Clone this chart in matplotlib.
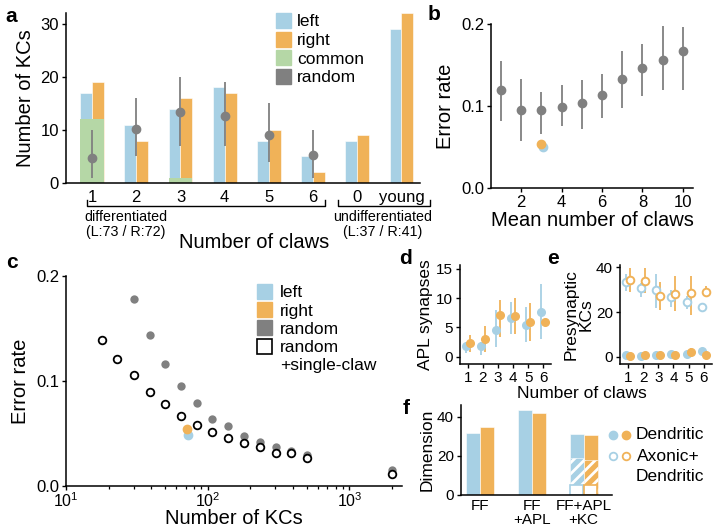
import matplotlib
matplotlib.use('Agg')
import matplotlib.pyplot as plt
import numpy as np
from matplotlib.patches import Patch
import matplotlib.transforms as mtransforms

plt.rcParams['font.family'] = ['Liberation Sans', 'DejaVu Sans']
plt.rcParams['hatch.color'] = 'white'
plt.rcParams['hatch.linewidth'] = 2.0

BLUE = '#a7d0e4'
ORANGE = '#f0b258'
GREEN = '#b5d7a6'
GRAY = '#808080'

# ---------------- data ----------------
# panel a
claw_labels = ['1', '2', '3', '4', '5', '6', '0', 'young']
left_counts = [17, 11, 14, 18, 8, 5, 8, 29]
right_counts = [19, 8, 16, 17, 10, 2, 9, 32]
common_counts = [12, 0, 1, 0, 0, 0, 0, 0]
random_mean = [4.8, 10.1, 13.4, 12.7, 9.1, 5.2]
random_lo = [1.0, 5.0, 7.0, 7.0, 4.0, 1.0]
random_hi = [10.0, 16.0, 20.0, 19.0, 15.0, 10.0]

# panel b
mean_claws = [1, 2, 3, 4, 5, 6, 7, 8, 9, 10]
b_err = [0.120, 0.095, 0.095, 0.099, 0.104, 0.114, 0.133, 0.146, 0.156, 0.167]
b_lo = [0.082, 0.057, 0.066, 0.075, 0.072, 0.085, 0.097, 0.112, 0.119, 0.119]
b_hi = [0.155, 0.133, 0.117, 0.125, 0.132, 0.139, 0.167, 0.176, 0.198, 0.196]
b_left = (3.08, 0.050)
b_right = (2.96, 0.054)

# panel c
n_kcs_random = [30, 39, 50, 65, 84, 108, 140, 181, 234, 302, 390, 504, 2000]
err_random = [0.178, 0.144, 0.116, 0.095, 0.079, 0.064, 0.057, 0.048, 0.042,
              0.037, 0.033, 0.030, 0.015]
n_kcs_single = [18, 23, 30, 39, 50, 65, 84, 108, 140, 181, 234, 302, 390, 504, 2000]
err_single = [0.139, 0.121, 0.106, 0.090, 0.078, 0.067, 0.058, 0.051, 0.046,
              0.041, 0.037, 0.031, 0.031, 0.027, 0.011]
c_left = (73, 0.049)
c_right = (72, 0.054)

# panel d
claws = [1, 2, 3, 4, 5, 6]
d_left = [1.8, 1.8, 4.5, 6.6, 5.5, 7.6]
d_left_lo = [0.6, 0.4, 1.7, 3.9, 2.5, 3.0]
d_left_hi = [2.5, 2.6, 8.0, 9.3, 8.5, 12.3]
d_right = [2.4, 3.0, 7.2, 7.0, 5.9, 6.0]
d_right_lo = [0.8, 0.8, 3.4, 3.9, 2.7, 6.0]
d_right_hi = [3.7, 5.2, 9.7, 10.0, 9.1, 6.0]

# panel e
e_left_open = [33.5, 30.8, 30.0, 26.5, 24.5, 22.3]
e_left_open_lo = [29.2, 26.8, 22.0, 22.3, 21.5, 20.5]
e_left_open_hi = [37.2, 33.0, 37.0, 29.8, 27.0, 24.0]
e_right_open = [34.3, 34.0, 27.2, 28.1, 28.6, 29.0]
e_right_open_lo = [29.0, 28.6, 20.8, 20.5, 18.5, 26.8]
e_right_open_hi = [39.5, 39.5, 33.5, 36.0, 36.0, 31.7]
e_left_filled = [0.6, 0.5, 0.8, 1.4, 1.2, 2.7]
e_left_filled_lo = [0.2, 0.2, 0.3, 0.6, 0.5, 1.5]
e_left_filled_hi = [1.0, 0.9, 1.4, 2.2, 2.0, 3.8]
e_right_filled = [0.5, 0.7, 0.6, 1.0, 2.0, 1.0]
e_right_filled_lo = [0.2, 0.3, 0.2, 0.4, 0.5, 0.4]
e_right_filled_hi = [0.9, 1.1, 1.0, 1.6, 4.0, 1.6]

# panel f
f_groups = ['FF', 'FF\n+APL', 'FF+APL\n+KC']
f_left = [31.8, 43.6, 31.3]
f_right = [34.9, 42.0, 30.6]
f_axonic_left = 19.0
f_axonic_right = 18.0
f_axonic_base = 5.0

# ---------------- figure ----------------
W, H = 713, 531
fig = plt.figure(figsize=(W / 100, H / 100), dpi=100)


def px_axes(x0, y0, x1, y1):
    return fig.add_axes([x0 / W, 1 - y1 / H, (x1 - x0) / W, (y1 - y0) / H])


def style(ax, fs):
    for s in ['top', 'right']:
        ax.spines[s].set_visible(False)
    for s in ['left', 'bottom']:
        ax.spines[s].set_linewidth(1.1)
    ax.tick_params(direction='out', length=3, width=1.0, labelsize=fs, pad=2)


def ptext(x, y, s, **kw):
    fig.text(x / W, 1 - y / H, s, **kw)


# ---- panel a ----
axa = px_axes(66, 13, 420, 183)
style(axa, 12)
pos = np.arange(1, len(claw_labels) + 1)
axa.bar(pos - 0.135, left_counts, width=0.27, color=BLUE, edgecolor='white', linewidth=0.4)
axa.bar(pos + 0.135, right_counts, width=0.27, color=ORANGE, edgecolor='white', linewidth=0.4)
axa.bar(pos, common_counts, width=0.54, color=GREEN, edgecolor='none')
rm = np.array(random_mean)
axa.errorbar(pos[:len(rm)], rm, yerr=[rm - np.array(random_lo), np.array(random_hi) - rm],
             fmt='o', color=GRAY, ms=6, elinewidth=1.3, capsize=0)
axa.set_xlim(0.41, 8.42)
axa.set_ylim(0, 32)
axa.set_yticks([0, 10, 20, 30])
axa.set_xticks(pos)
axa.set_xticklabels(claw_labels)
axa.tick_params(axis='x', length=0, pad=5)
axa.set_ylabel('Number of KCs', fontsize=14.5, labelpad=4)
axa.legend(handles=[Patch(color=BLUE), Patch(color=ORANGE), Patch(color=GREEN), Patch(color=GRAY)],
           labels=['left', 'right', 'common', 'random'], loc='upper left',
           bbox_to_anchor=(0.593, 1.0), frameon=False, fontsize=12.5,
           handlelength=0.85, handleheight=0.95, handletextpad=0.35,
           labelspacing=0.12, borderpad=0, borderaxespad=0)
# brackets
tr = mtransforms.blended_transform_factory(axa.transData, axa.transAxes)
for (x0, x1) in [(0.89, 6.27), (6.57, 8.65)]:
    axa.plot([x0, x0, x1, x1], [-0.1, -0.135, -0.135, -0.1], color='black', lw=1.0,
             transform=tr, clip_on=False)
axa.text(1.77, -0.245, 'differentiated\n(L:73 / R:72)', transform=tr, ha='center', va='center',
         fontsize=10.3, linespacing=1.05)
axa.text(7.58, -0.245, 'undifferentiated\n(L:37 / R:41)', transform=tr, ha='center', va='center',
         fontsize=10.3, linespacing=1.05)
ptext(254, 243, 'Number of claws', ha='center', va='center', fontsize=14.5)

# ---- panel b ----
axb = px_axes(491, 24, 693, 188)
style(axb, 12)
be = np.array(b_err)
axb.errorbar(mean_claws, be, yerr=[be - np.array(b_lo), np.array(b_hi) - be], fmt='o',
             color=GRAY, ms=6, elinewidth=1.3, capsize=0)
axb.plot([b_left[0]], [b_left[1]], 'o', color=BLUE, ms=6)
axb.plot([b_right[0]], [b_right[1]], 'o', color=ORANGE, ms=6)
axb.set_xlim(0.5, 10.5)
axb.set_ylim(0, 0.2)
axb.set_yticks([0.0, 0.1, 0.2])
axb.set_xticks([2, 4, 6, 8, 10])
axb.set_xlabel('Mean number of claws', fontsize=14.5, labelpad=1)
axb.set_ylabel('Error rate', fontsize=14.5, labelpad=4)

# ---- panel c ----
axc = px_axes(66, 276, 402, 486)
style(axc, 12)
axc.set_xscale('log')
axc.plot(n_kcs_random, err_random, 'o', color=GRAY, ms=6, mec='none')
axc.plot(n_kcs_single, err_single, 'o', mfc='white', mec='black', ms=5.5, mew=1.3)
axc.plot([c_left[0]], [c_left[1]], 'o', color=BLUE, ms=6)
axc.plot([c_right[0]], [c_right[1]], 'o', color=ORANGE, ms=6)
axc.set_xlim(10, 2350)
axc.set_ylim(0, 0.2)
axc.set_yticks([0.0, 0.1, 0.2])
axc.tick_params(axis='x', which='both', pad=0.5)
axc.tick_params(axis='x', which='major', labelsize=11.5)
axc.tick_params(axis='x', which='minor', length=2.5, width=0.9)
axc.set_ylabel('Error rate', fontsize=14.5, labelpad=4)
ptext(234, 519, 'Number of KCs', ha='center', va='center', fontsize=14.5)
axc.legend(handles=[Patch(color=BLUE), Patch(color=ORANGE), Patch(color=GRAY),
                    Patch(facecolor='white', edgecolor='black', linewidth=1.2),
                    Patch(facecolor='none', edgecolor='none')],
           labels=['left', 'right', 'random', 'random', '+single-claw'], loc='upper left',
           bbox_to_anchor=(0.568, 0.962), frameon=False, fontsize=12.5,
           handlelength=0.85, handleheight=0.95, handletextpad=0.5,
           labelspacing=0.1, borderpad=0, borderaxespad=0)

# ---- panel d ----
axd = px_axes(460, 265, 551, 364)
style(axd, 11)
off = 0.13
cl = np.array(claws)
dl = np.array(d_left)
dr = np.array(d_right)
axd.errorbar(cl - off, dl, yerr=[dl - np.array(d_left_lo), np.array(d_left_hi) - dl], fmt='o',
             color=BLUE, ms=5.5, elinewidth=1.3, capsize=0)
axd.errorbar(cl + off, dr, yerr=[dr - np.array(d_right_lo), np.array(d_right_hi) - dr], fmt='o',
             color=ORANGE, ms=5.5, elinewidth=1.3, capsize=0)
axd.set_xlim(0.48, 6.5)
axd.set_ylim(-1.2, 15.6)
axd.set_yticks([0, 5, 10, 15])
axd.set_xticks(claws)
axd.set_ylabel('APL synapses', fontsize=12.5, labelpad=2)

# ---- panel e ----
axe = px_axes(620, 265, 712, 364)
style(axe, 11)
for vals, lo, hi, c, sgn, filled in [
        (e_left_filled, e_left_filled_lo, e_left_filled_hi, BLUE, -1, True),
        (e_right_filled, e_right_filled_lo, e_right_filled_hi, ORANGE, 1, True),
        (e_left_open, e_left_open_lo, e_left_open_hi, BLUE, -1, False),
        (e_right_open, e_right_open_lo, e_right_open_hi, ORANGE, 1, False)]:
    v = np.array(vals)
    kw = dict(mfc=c, mec=c) if filled else dict(mfc='white', mec=c, mew=1.4)
    axe.errorbar(cl + sgn * off, v, yerr=[v - np.array(lo), np.array(hi) - v], fmt='o',
                 color=c, ms=5.5, elinewidth=1.3, capsize=0, **kw)
axe.set_xlim(0.47, 6.55)
axe.set_ylim(-3.2, 41)
axe.set_yticks([0, 20, 40])
axe.set_xticks(claws)
axe.set_ylabel('Presynaptic\nKCs', fontsize=12.5, labelpad=2, linespacing=0.95)
ptext(582, 393, 'Number of claws', ha='center', va='center', fontsize=12.5)

# ---- panel f ----
axf = px_axes(461, 405, 612, 495)
style(axf, 11)
gpos = np.arange(len(f_groups))
axf.bar(gpos - 0.135, f_left, width=0.27, color=BLUE, edgecolor='white', linewidth=0.4)
axf.bar(gpos + 0.135, f_right, width=0.27, color=ORANGE, edgecolor='white', linewidth=0.4)
g = gpos[-1]
axf.bar([g - 0.135], [f_axonic_left], width=0.27, color=BLUE, hatch='///', edgecolor='white', linewidth=0.4)
axf.bar([g + 0.135], [f_axonic_right], width=0.27, color=ORANGE, hatch='///', edgecolor='white', linewidth=0.4)
axf.bar([g - 0.135], [f_axonic_base], width=0.25, facecolor='white', edgecolor=BLUE, linewidth=1.2)
axf.bar([g + 0.135], [f_axonic_base], width=0.25, facecolor='white', edgecolor=ORANGE, linewidth=1.2)
axf.set_xlim(-0.37, 2.55)
axf.set_ylim(0, 46)
axf.set_yticks([0, 20, 40])
axf.set_xticks(gpos)
axf.set_xticklabels(f_groups, fontsize=11, linespacing=1.0)
axf.tick_params(axis='x', length=0, pad=3)
axf.set_ylabel('Dimension', fontsize=12.5, labelpad=2)
# legend for f
axf.plot([1.007], [0.667], 'o', color=BLUE, ms=6, transform=axf.transAxes, clip_on=False)
axf.plot([1.093], [0.667], 'o', color=ORANGE, ms=6, transform=axf.transAxes, clip_on=False)
axf.plot([1.007], [0.433], 'o', mfc='white', mec=BLUE, mew=1.3, ms=5.5, transform=axf.transAxes, clip_on=False)
axf.plot([1.093], [0.433], 'o', mfc='white', mec=ORANGE, mew=1.3, ms=5.5, transform=axf.transAxes, clip_on=False)
axf.text(1.155, 0.667, 'Dendritic', transform=axf.transAxes, va='center', ha='left', fontsize=12.5)
axf.text(1.168, 0.433, 'Axonic+', transform=axf.transAxes, va='center', ha='left', fontsize=12.5)
axf.text(1.155, 0.21, 'Dendritic', transform=axf.transAxes, va='center', ha='left', fontsize=12.5)

# panel letters
for lab, x, y in [('a', 11, 17), ('b', 434, 15), ('c', 12, 262), ('d', 405, 258),
                  ('e', 553, 258), ('f', 406, 409)]:
    ptext(x, y, lab, ha='center', va='center', fontsize=15, fontweight='bold')

fig.savefig('out.png', dpi=100)
